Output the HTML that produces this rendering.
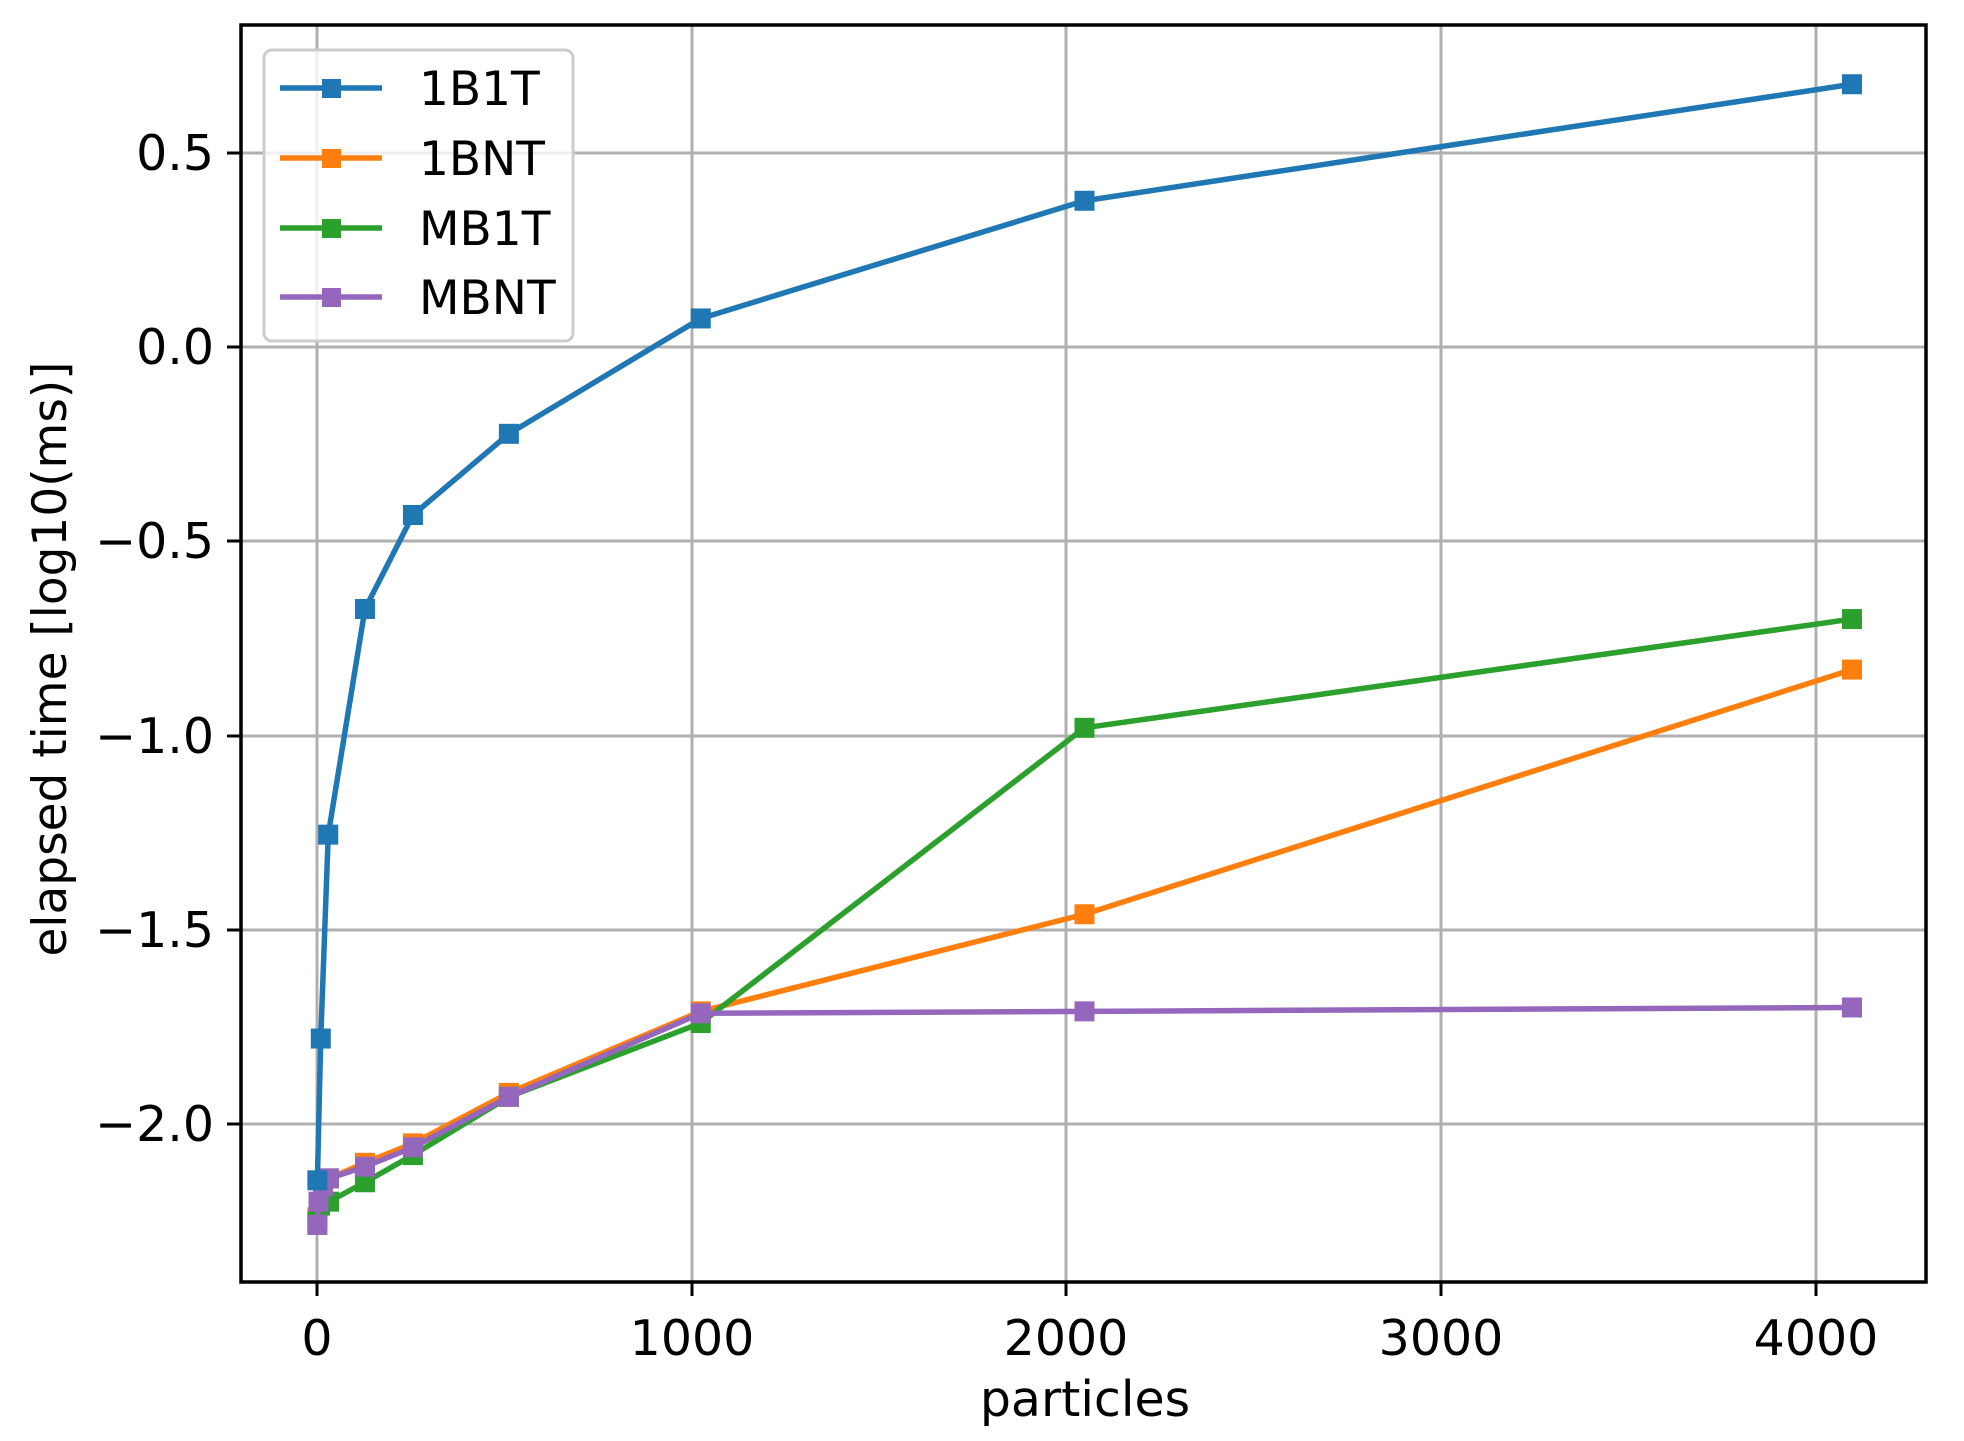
<!DOCTYPE html>
<html><head><style>body{margin:0;background:#fff}svg{display:block}text{font-family:"DejaVu Sans","Liberation Sans",sans-serif;fill:#000}</style></head>
<body>
<svg id="s" width="1964" height="1441" viewBox="0 0 1964 1441" xmlns="http://www.w3.org/2000/svg">
<rect width="1964" height="1441" fill="#fff"/>
<g stroke="#b0b0b0" stroke-width="3">
<line x1="317" y1="25" x2="317" y2="1282"/><line x1="692" y1="25" x2="692" y2="1282"/><line x1="1066" y1="25" x2="1066" y2="1282"/><line x1="1441" y1="25" x2="1441" y2="1282"/><line x1="1816" y1="25" x2="1816" y2="1282"/>
<line x1="241" y1="153" x2="1926" y2="153"/><line x1="241" y1="347" x2="1926" y2="347"/><line x1="241" y1="541" x2="1926" y2="541"/><line x1="241" y1="736" x2="1926" y2="736"/><line x1="241" y1="930" x2="1926" y2="930"/><line x1="241" y1="1124" x2="1926" y2="1124"/>
</g>
<g id="data"></g>
<rect x="241" y="25" width="1685" height="1257" fill="none" stroke="#000" stroke-width="3.5"/>
<g stroke="#000" stroke-width="3">
<line x1="317" y1="1282" x2="317" y2="1296"/><line x1="692" y1="1282" x2="692" y2="1296"/><line x1="1066" y1="1282" x2="1066" y2="1296"/><line x1="1441" y1="1282" x2="1441" y2="1296"/><line x1="1816" y1="1282" x2="1816" y2="1296"/>
<line x1="227" y1="153" x2="241" y2="153"/><line x1="227" y1="347" x2="241" y2="347"/><line x1="227" y1="541" x2="241" y2="541"/><line x1="227" y1="736" x2="241" y2="736"/><line x1="227" y1="930" x2="241" y2="930"/><line x1="227" y1="1124" x2="241" y2="1124"/>
</g>
<g font-size="49" text-anchor="middle">
<text x="317" y="1355">0</text><text x="692" y="1355">1000</text><text x="1066" y="1355">2000</text><text x="1441" y="1355">3000</text><text x="1816" y="1355">4000</text>
<text x="1085" y="1416">particles</text>
</g>
<g font-size="49" text-anchor="end">
<text x="214" y="170">0.5</text><text x="214" y="364">0.0</text><text x="214" y="558">−0.5</text><text x="214" y="753">−1.0</text><text x="214" y="947">−1.5</text><text x="214" y="1141">−2.0</text>
</g>
<text transform="translate(66,659) rotate(-90)" font-size="47" text-anchor="middle">elapsed time [log10(ms)]</text>
<rect x="264" y="50" width="309" height="291" rx="8" fill="#fff" fill-opacity="0.8" stroke="#ccc" stroke-width="3"/>
<g stroke-width="5.5"><line x1="280" y1="88" x2="382" y2="88" stroke="#1f77b4"/><line x1="280" y1="158" x2="382" y2="158" stroke="#ff7f0e"/><line x1="280" y1="228" x2="382" y2="228" stroke="#2ca02c"/><line x1="280" y1="297" x2="382" y2="297" stroke="#9467bd"/></g>
<rect x="322" y="79" width="19" height="19" fill="#1f77b4"/><rect x="322" y="149" width="19" height="19" fill="#ff7f0e"/><rect x="322" y="219" width="19" height="19" fill="#2ca02c"/><rect x="322" y="288" width="19" height="19" fill="#9467bd"/>
<g font-size="47"><text x="419" y="105">1B1T</text><text x="419" y="175">1BNT</text><text x="419" y="245">MB1T</text><text x="419" y="314">MBNT</text></g>
</svg>
<script>
(function(){
var X=function(n){return 317+n*0.37475;},Y=function(v){return 153+(0.5-v)*388.4;};
var S=[
["#ff7f0e",[[1,-2.24],[16,-2.15],[32,-2.14],[128,-2.1],[256,-2.05],[512,-1.92],[1024,-1.71],[2048,-1.46],[4096,-0.83]]],
["#2ca02c",[[1,-2.25],[8,-2.21],[32,-2.2],[128,-2.15],[256,-2.08],[512,-1.93],[1024,-1.74],[2048,-0.98],[4096,-0.70]]],
["#9467bd",[[1,-2.26],[4,-2.2],[16,-2.16],[32,-2.14],[128,-2.11],[256,-2.06],[512,-1.93],[1024,-1.715],[2048,-1.71],[4096,-1.70]]],
["#1f77b4",[[1,-2.145],[10,-1.78],[30,-1.255],[128,-0.674],[256,-0.432],[512,-0.223],[1024,0.074],[2048,0.377],[4096,0.677]]]
];
var g=document.getElementById("data"),ns="http://www.w3.org/2000/svg";
S.forEach(function(s){
 var pl=document.createElementNS(ns,"polyline");
 pl.setAttribute("points",s[1].map(function(p){return X(p[0])+","+Y(p[1]);}).join(" "));
 pl.setAttribute("fill","none");pl.setAttribute("stroke",s[0]);pl.setAttribute("stroke-width","5.5");pl.setAttribute("stroke-linejoin","round");
 g.appendChild(pl);
 s[1].forEach(function(p){var r=document.createElementNS(ns,"rect");r.setAttribute("x",X(p[0])-10);r.setAttribute("y",Y(p[1])-10);r.setAttribute("width",20);r.setAttribute("height",20);r.setAttribute("fill",s[0]);g.appendChild(r);});
});
})();
</script>
</body></html>
